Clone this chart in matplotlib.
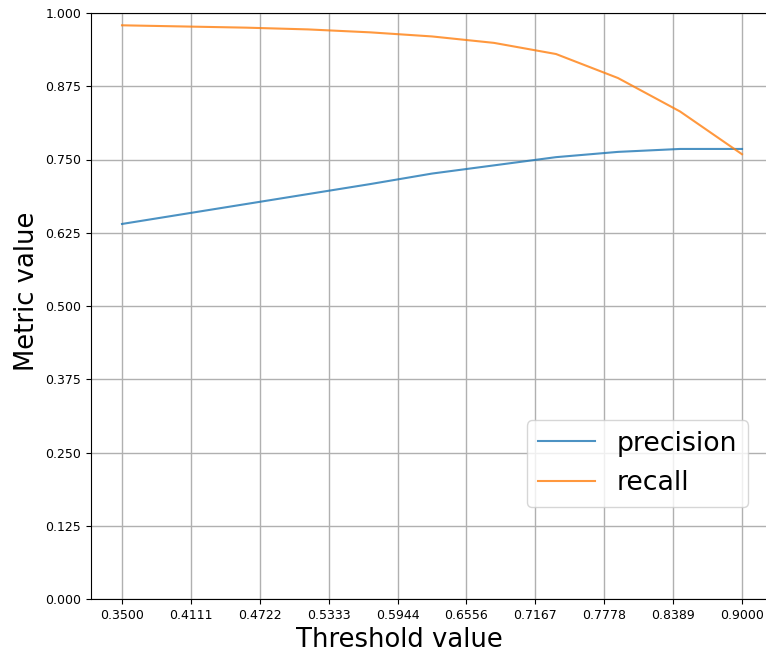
import matplotlib
matplotlib.use("Agg")
import matplotlib.pyplot as plt
import matplotlib.ticker as mticker
import numpy as np

# thresholds the metrics were computed at (11 points), and the tick positions (10)
thresholds = [0.35, 0.405, 0.46, 0.515, 0.57, 0.625, 0.68, 0.735, 0.79, 0.845, 0.90]
precision  = [0.640, 0.657, 0.674, 0.691, 0.708, 0.726, 0.740, 0.754, 0.763, 0.768, 0.768]
recall     = [0.979, 0.977, 0.975, 0.972, 0.967, 0.960, 0.949, 0.930, 0.889, 0.832, 0.759]
x_ticks    = np.linspace(0.35, 0.90, 10)
y_ticks    = np.linspace(0.0, 1.0, 9)

W, H = 766, 652
fig = plt.figure(figsize=(W / 100, H / 100), dpi=100)
# axes runs slightly past the right edge, as in the original crop
ax = fig.add_axes([91 / W, (H - 599) / H, (773 - 91) / W, (599 - 13) / H])

ax.plot(thresholds, precision, color="C0", alpha=0.8, lw=1.5, label="precision")
ax.plot(thresholds, recall,    color="C1", alpha=0.8, lw=1.5, label="recall")

ax.set_xlim(0.35 - 0.0275, 0.90 + 0.0275)
ax.set_ylim(0, 1)
ax.set_xticks(x_ticks)
ax.set_yticks(y_ticks)
ax.xaxis.set_major_formatter(mticker.FormatStrFormatter("%.4f"))
ax.yaxis.set_major_formatter(mticker.FormatStrFormatter("%.3f"))
ax.tick_params(labelsize=9)
ax.grid(True, color="#b0b0b0", lw=1)
ax.spines["right"].set_visible(False)

ax.set_xlabel("Threshold value", fontsize=18.6)
ax.set_ylabel("Metric value", fontsize=18.6)
# labels sit a bit off-centre in the original
ax.xaxis.label.set_x(0.4516)
ax.yaxis.label.set_y(0.5256)

ax.legend(loc="lower right", fontsize=19.3, handlelength=2.15,
          bbox_to_anchor=(748 / W, (H - 507) / H), bbox_transform=fig.transFigure,
          borderaxespad=0)

fig.savefig("out.png", dpi=100)
